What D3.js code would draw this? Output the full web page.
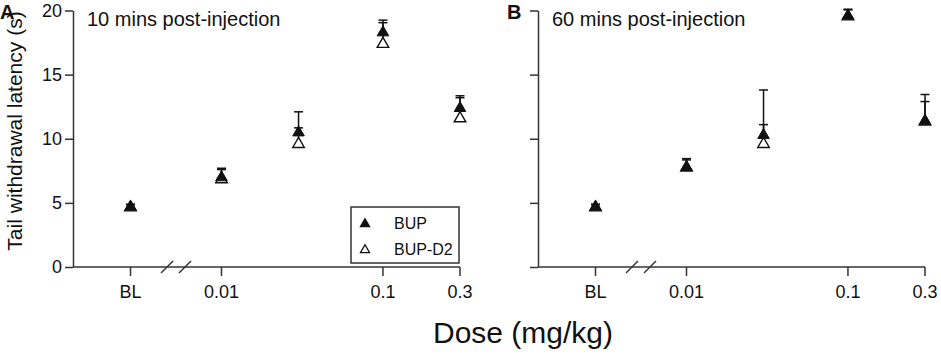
<!DOCTYPE html>
<html>
<head>
<meta charset="utf-8">
<script src="https://cdn.jsdelivr.net/npm/d3@7"></script>
<style>
  body { margin: 0; background: #fff; }
  text { font-family: "Liberation Sans", Arial, sans-serif; fill: #111; }
</style>
</head>
<body>
<svg width="941" height="360"></svg>
<script>
// doses on the x axis ("BL" = baseline, sits left of the axis break)
var doses = ["BL", 0.01, 0.03, 0.1, 0.3];
var tickDoses = ["BL", 0.01, 0.1, 0.3];
var tickLabels = ["BL", "0.01", "0.1", "0.3"];
var yTicks = [0, 5, 10, 15, 20];
var seriesNames = ["BUP", "BUP-D2"];

// 10 mins post-injection (mean, upper SEM)
var bup10 = [4.8, 7.1, 10.6, 18.4, 12.5];
var bup10Err = [0.1, 0.6, 1.5, 0.85, 0.7];
var d2_10 = [4.75, 6.95, 9.7, 17.5, 11.7];
var d2_10Err = [0.1, 0.65, 1.15, 1.55, 1.65];

// 60 mins post-injection
var bup60 = [4.8, 7.9, 10.4, 19.7, 11.5];
var bup60Err = [0.1, 0.55, 0.7, 0.4, 1.4];
var d2_60 = [4.75, 7.85, 9.7, 19.65, 11.45];
var d2_60Err = [0.1, 0.5, 4.1, 0.4, 2.0];

var svg = d3.select("svg");
var axisColor = "#333";

var y = d3.scaleLinear().domain([0, 20]).range([267, 10.5]);
var xLog = d3.scaleLog().domain([0.01, 0.3]).range([148.5, 387]);
var blGap = 91;
function xPos(d) { return d === "BL" ? xLog(0.01) - blGap : xLog(d); }

var tri = d3.symbol().type(d3.symbolTriangle).size(58);
var triSmall = d3.symbol().type(d3.symbolTriangle).size(36);

function drawPanel(x0, letter, title, bup, bupErr, d2, d2Err, showLabels, showLegend) {
  var g = svg.append("g").attr("transform", "translate(" + x0 + ",0)");

  // y axis
  var yAxis = d3.axisLeft(y).tickValues(yTicks).tickSize(8).tickSizeOuter(0).tickPadding(3);
  if (!showLabels) yAxis.tickFormat("");
  var ya = g.append("g").call(yAxis);
  ya.select(".domain").attr("stroke", axisColor).attr("stroke-width", 1.5);
  ya.selectAll(".tick line").attr("stroke", axisColor).attr("stroke-width", 1.5);
  ya.selectAll(".tick text").attr("font-size", 18).attr("fill", "#111")
    .style("font-family", "'Liberation Sans', Arial, sans-serif");

  // x axis line + ticks
  g.append("line").attr("x1", 0).attr("x2", xLog(0.3))
    .attr("y1", y(0)).attr("y2", y(0))
    .attr("stroke", axisColor).attr("stroke-width", 1.5);
  g.selectAll(".xtick").data(tickDoses).enter().append("line")
    .attr("x1", xPos).attr("x2", xPos)
    .attr("y1", y(0)).attr("y2", y(0) + 9)
    .attr("stroke", axisColor).attr("stroke-width", 1.5);
  g.selectAll(".xlab").data(tickDoses).enter().append("text")
    .attr("x", xPos).attr("y", y(0) + 31)
    .attr("text-anchor", "middle").attr("font-size", 18)
    .text(function (d, i) { return tickLabels[i]; });

  // axis break marks
  var mid = (xPos("BL") + xLog(0.01)) / 2;
  [-9, 9].forEach(function (o) {
    g.append("line")
      .attr("x1", mid + o - 6).attr("y1", y(0) + 6)
      .attr("x2", mid + o + 6).attr("y2", y(0) - 6)
      .attr("stroke", axisColor).attr("stroke-width", 1.5);
  });

  // error bars (upper only)
  [[d2, d2Err], [bup, bupErr]].forEach(function (s) {
    var eb = g.append("g");
    doses.forEach(function (d, i) {
      var cx = xPos(d), top = y(s[0][i] + s[1][i]);
      eb.append("line").attr("x1", cx).attr("x2", cx)
        .attr("y1", y(s[0][i])).attr("y2", top)
        .attr("stroke", "#111").attr("stroke-width", 1.5);
      eb.append("line").attr("x1", cx - 4.5).attr("x2", cx + 4.5)
        .attr("y1", top).attr("y2", top)
        .attr("stroke", "#111").attr("stroke-width", 1.5);
    });
  });

  // open triangles (BUP-D2), then filled (BUP)
  g.selectAll(".d2").data(d2).enter().append("path")
    .attr("d", tri)
    .attr("transform", function (v, i) { return "translate(" + xPos(doses[i]) + "," + (y(v) + 1.5) + ")"; })
    .attr("fill", "#fff").attr("stroke", "#111").attr("stroke-width", 1.4);
  g.selectAll(".bup").data(bup).enter().append("path")
    .attr("d", tri)
    .attr("transform", function (v, i) { return "translate(" + xPos(doses[i]) + "," + (y(v) + 1.5) + ")"; })
    .attr("fill", "#111").attr("stroke", "#111").attr("stroke-width", 1);

  // panel title
  g.append("text").attr("x", 14).attr("y", 26).attr("font-size", 20).text(title);
  svg.append("text").attr("x", x0 - (letter === "A" ? 73 : 31)).attr("y", 19)
    .attr("font-size", 20).attr("font-weight", "bold").text(letter);

  if (showLegend) {
    var lg = g.append("g").attr("transform", "translate(278,207)");
    lg.append("rect").attr("width", 108).attr("height", 56)
      .attr("fill", "#fff").attr("stroke", axisColor).attr("stroke-width", 1.5);
    seriesNames.forEach(function (name, i) {
      var row = lg.append("g").attr("transform", "translate(14," + (16 + i * 26) + ")");
      row.append("path").attr("d", triSmall).attr("transform", "translate(0,1)")
        .attr("fill", i === 0 ? "#111" : "#fff").attr("stroke", "#111").attr("stroke-width", 1.3);
      row.append("text").attr("x", 29).attr("y", 6).attr("font-size", 16).text(name);
    });
  }
}

drawPanel(73, "A", "10 mins post-injection", bup10, bup10Err, d2_10, d2_10Err, true, true);
drawPanel(538, "B", "60 mins post-injection", bup60, bup60Err, d2_60, d2_60Err, false, false);

// shared axis titles
svg.append("text")
  .attr("transform", "translate(22,131) rotate(-90)")
  .attr("text-anchor", "middle").attr("font-size", 21)
  .text("Tail withdrawal latency (s)");
svg.append("text")
  .attr("x", 523).attr("y", 343)
  .attr("text-anchor", "middle").attr("font-size", 30)
  .text("Dose (mg/kg)");
</script>
</body>
</html>
